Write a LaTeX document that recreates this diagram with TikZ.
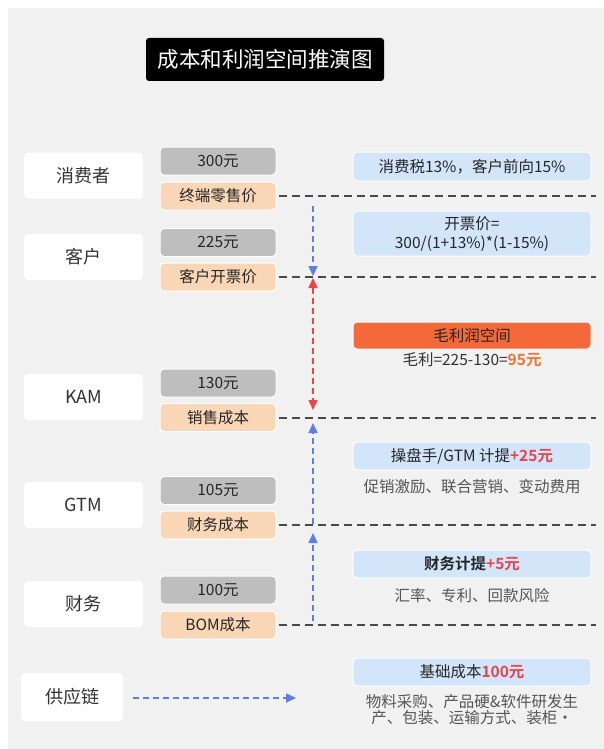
\documentclass[tikz,border=0pt]{standalone}
\usepackage{fontspec}
\setmainfont{Noto Sans CJK SC}[BoldFont={Noto Sans CJK SC Bold}]
\usetikzlibrary{arrows.meta}
\definecolor{bg}{HTML}{F1F1F1}
\definecolor{grayval}{HTML}{BEBEBE}
\definecolor{peach}{HTML}{F8D6B6}
\definecolor{lblue}{HTML}{D2E5F9}
\definecolor{hdr}{HTML}{F4693A}
\definecolor{redv}{HTML}{E8434B}
\definecolor{orgv}{HTML}{F0742F}
\definecolor{arrblue}{HTML}{5B7FE6}
\definecolor{arrred}{HTML}{E8464B}
\definecolor{dline}{HTML}{4A4A4A}
\definecolor{txt}{HTML}{333333}
\definecolor{subtxt}{HTML}{555555}
\tikzset{
  rolebox/.style={fill=white, rounded corners=4pt, minimum width=119pt, minimum height=46pt, inner sep=0pt, text=txt, font=\fontsize{18}{21}\selectfont},
  valbox/.style={fill=grayval, draw=white, line width=1pt, rounded corners=4pt, minimum width=116pt, minimum height=28pt, inner sep=0pt, text=black!85, font=\fontsize{15.5}{18}\selectfont},
  kindbox/.style={fill=peach, draw=white, line width=1pt, rounded corners=4pt, minimum width=116pt, minimum height=28pt, inner sep=0pt, text=black!85, font=\fontsize{15.5}{18}\selectfont},
  notebox/.style={fill=lblue, draw=white, line width=1pt, rounded corners=4pt, minimum width=238pt, minimum height=28pt, inner sep=0pt, text=black!85, font=\fontsize{15.5}{18}\selectfont, align=center},
  subtext/.style={inner sep=0pt, text=subtxt, font=\fontsize{15.5}{17}\selectfont, align=center},
  levelline/.style={draw=dline, line width=2pt, dash pattern=on 8pt off 5pt},
  bluearr/.style={draw=arrblue, line width=1.6pt, dash pattern=on 6pt off 4pt, -{Triangle[length=10pt,width=9pt]}},
  redarr/.style={draw=arrred, line width=1.6pt, dash pattern=on 6pt off 4pt, {Triangle[length=10pt,width=9pt]}-{Triangle[length=10pt,width=9pt]}},
}
\begin{document}
\begin{tikzpicture}[x=1pt,y=-1pt]
\useasboundingbox (0,0) rectangle (604,749);
\fill[bg] (8,8) rectangle (604,749);

% title
\node[fill=black, rounded corners=3pt, minimum width=238pt, minimum height=43pt, inner sep=0pt, text=white, font=\fontsize{21.5}{25}\selectfont] (title) at (265,59.5) {成本和利润空间推演图};

% roles
\node[rolebox] (r1) at (83.5,175.5) {消费者};
\node[rolebox] (r2) at (83.5,257) {客户};
\node[rolebox] (r3) at (83.5,397) {KAM};
\node[rolebox] (r4) at (83.5,505) {GTM};
\node[rolebox] (r5) at (83.5,604) {财务};
\node[rolebox, minimum width=102pt, minimum height=48pt] (r6) at (72,697) {供应链};

% values
\node[valbox] (v1) at (218,161) {300元};
\node[kindbox] (k1) at (218,196) {终端零售价};
\node[valbox] (v2) at (218,242.5) {225元};
\node[kindbox] (k2) at (218,277) {客户开票价};
\node[valbox] (v3) at (218,383) {130元};
\node[kindbox] (k3) at (218,417.5) {销售成本};
\node[valbox] (v4) at (218,490.5) {105元};
\node[kindbox] (k4) at (218,525) {财务成本};
\node[valbox] (v5) at (218,590) {100元};
\node[kindbox] (k5) at (218,625) {BOM成本};

% level lines
\coordinate (e1) at (596,196);
\coordinate (e2) at (596,277);
\coordinate (e3) at (596,417.5);
\coordinate (e4) at (596,525);
\coordinate (e5) at (596,625);
\draw[levelline] ([xshift=2pt]k1.east) -- (e1);
\draw[levelline] ([xshift=2pt]k2.east) -- (e2);
\draw[levelline] ([xshift=2pt]k3.east) -- (e3);
\draw[levelline] ([xshift=2pt]k4.east) -- (e4);
\draw[levelline] ([xshift=2pt]k5.east) -- (e5);

% vertical arrows
\coordinate (a1s) at (313,206);
\coordinate (a1e) at (313,276);
\coordinate (a2s) at (313,278);
\coordinate (a2e) at (313,410);
\coordinate (a3s) at (313,524);
\coordinate (a3e) at (313,423);
\coordinate (a4s) at (313,621);
\coordinate (a4e) at (313,533);
\draw[bluearr] (a1s) -- (a1e);
\draw[redarr] (a2s) -- (a2e);
\draw[bluearr] (a3s) -- (a3e);
\draw[bluearr] (a4s) -- (a4e);

% notes
\node[notebox, minimum height=29pt] (n1) at (472,166.5) {消费税13\%，客户前向15\%};
\node[notebox, minimum height=45pt, font=\fontsize{15.5}{19}\selectfont] (n2) at (472,233.5) {开票价=\\300/(1+13\%)*(1-15\%)};
\node[notebox, fill=hdr, minimum height=27pt] (n3) at (472,335.5) {毛利润空间};
\node[subtext, text=txt] (t3) at (472,360) {毛利=225-130=\textcolor{orgv}{\bfseries 95元}};
\node[notebox] (n4) at (472,456) {操盘手/GTM 计提\textcolor{redv}{\bfseries +25元}};
\node[subtext] (t4) at (472,487) {促销激励、联合营销、变动费用};
\node[notebox] (n5) at (472,564) {\bfseries 财务计提\textcolor{redv}{+5元}};
\node[subtext] (t5) at (472,596) {汇率、专利、回款风险};
\node[notebox] (n6) at (472,672) {基础成本\textcolor{redv}{\bfseries 100元}};
\node[subtext, font=\fontsize{15.5}{15.5}\selectfont] (t6) at (472,709.5) {物料采购、产品硬\&软件研发生\\产、包装、运输方式、装柜·};

% supply chain arrow
\coordinate (sa) at (133,698);
\coordinate (sb) at (296,698);
\draw[bluearr] (sa) -- (sb);
\end{tikzpicture}
\end{document}
